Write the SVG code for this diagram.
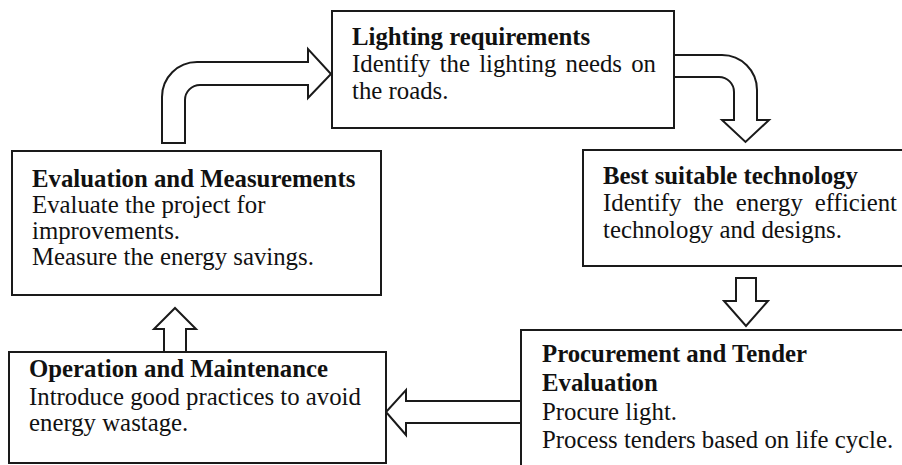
<svg xmlns="http://www.w3.org/2000/svg" width="902" height="465" viewBox="0 0 902 465">
<style>
.box{fill:#fff;stroke:#1a1a1a;stroke-width:2}
.arr{fill:#fff;stroke:#1a1a1a;stroke-width:2;stroke-linejoin:miter}
text{font-family:"Liberation Serif","Times New Roman",serif;font-size:24.8px;fill:#111}
.b{font-weight:bold}
</style>
<rect width="902" height="465" fill="#fff"/>
<g id="connectors">
<path class="arr" d="M162,143 L162,97 A35,35 0 0 1 197,62 L308,62 L308,49 L331,74 L308,98 L308,85 L200,85 A15,15 0 0 0 185,100 L185,143 Z"/>
<path class="arr" d="M674,55 L722,55 A35,35 0 0 1 757,90 L757,120 L769,120 L745.5,142 L722,120 L734,120 L734,92 A15,15 0 0 0 719,77 L674,77"/>
<path class="arr" d="M736,278 L756,278 L756,301 L768,301 L746,326 L724,301 L736,301 Z"/>
<path class="arr" d="M521,401 L406,401 L406,390 L386,412 L406,435 L406,423 L521,423"/>
<path class="arr" d="M164,352 L164,329 L154,329 L175,308 L196,329 L186,329 L186,352"/>
</g>
<g id="lighting">
<rect class="box" x="332" y="11" width="342" height="117"/>
<text x="352" y="45" class="b">Lighting requirements</text>
<text x="352" y="72" word-spacing="3">Identify the lighting needs on</text>
<text x="352" y="99">the roads.</text>
</g>
<g id="technology">
<rect class="box" x="583" y="150" width="330" height="116"/>
<text x="603" y="184" class="b">Best suitable technology</text>
<text x="603" y="211" word-spacing="5.8">Identify the energy efficient</text>
<text x="603" y="238">technology and designs.</text>
</g>
<g id="procurement">
<rect class="box" x="521" y="330" width="400" height="150"/>
<text x="542" y="362" class="b">Procurement and Tender</text>
<text x="542" y="391" class="b">Evaluation</text>
<text x="542" y="420">Procure light.</text>
<text x="542" y="448">Process tenders based on life cycle.</text>
</g>
<g id="operation">
<rect class="box" x="9" y="352" width="377" height="111"/>
<text x="29" y="377" class="b">Operation and Maintenance</text>
<text x="29" y="405">Introduce good practices to avoid</text>
<text x="29" y="431">energy wastage.</text>
</g>
<g id="evaluation">
<rect class="box" x="12" y="151" width="369" height="144"/>
<text x="32" y="187" class="b">Evaluation and Measurements</text>
<text x="32" y="213">Evaluate the project for</text>
<text x="32" y="239">improvements.</text>
<text x="32" y="265">Measure the energy savings.</text>
</g>
</svg>
